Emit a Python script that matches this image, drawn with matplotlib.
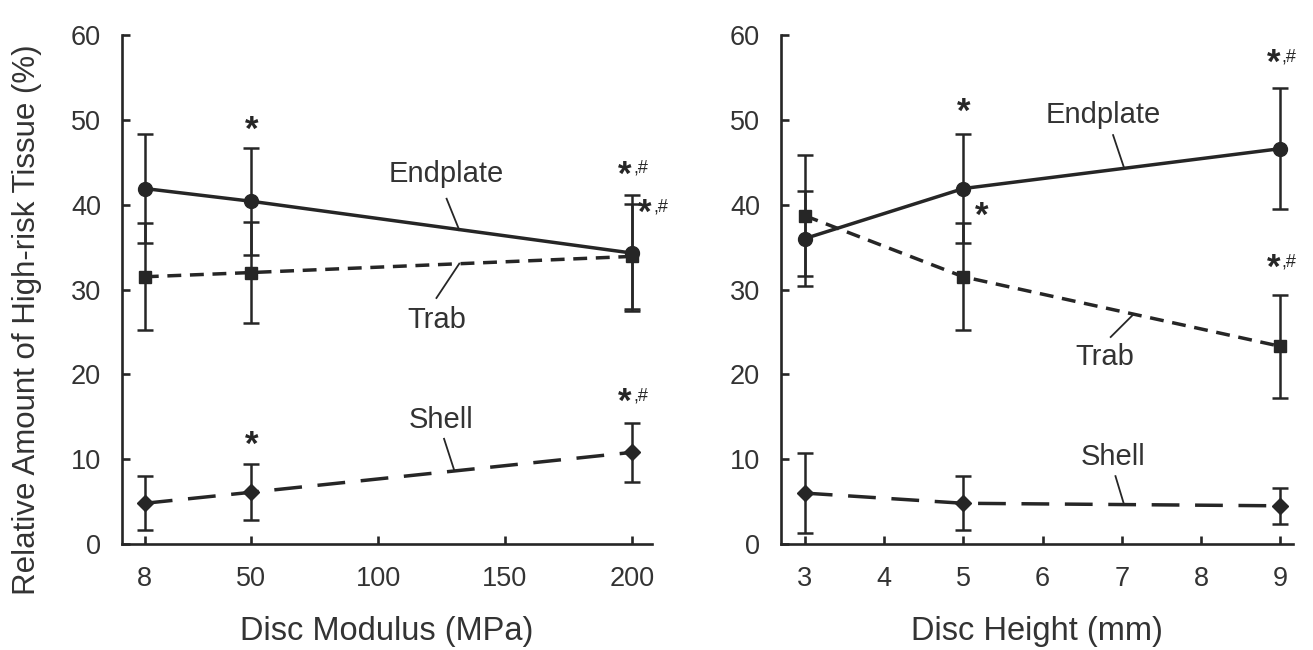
import numpy as np
import matplotlib
matplotlib.use('Agg')
import matplotlib.pyplot as plt

plt.rcParams['font.family'] = ['Liberation Sans', 'DejaVu Sans']

ink = '#262626'
txt = '#333333'

# left panel: disc modulus (MPa)
modulus = [8, 50, 200]
mod_endplate = [41.9, 40.4, 34.3]
mod_endplate_sd = [6.4, 6.3, 6.8]
mod_trab = [31.5, 32.0, 33.9]
mod_trab_sd = [6.3, 6.0, 6.2]
mod_shell = [4.8, 6.1, 10.8]
mod_shell_sd = [3.2, 3.3, 3.5]

# right panel: disc height (mm)
height = [3, 5, 9]
hgt_endplate = [36.0, 41.9, 46.6]
hgt_endplate_sd = [5.6, 6.4, 7.1]
hgt_trab = [38.7, 31.5, 23.3]
hgt_trab_sd = [7.1, 6.3, 6.1]
hgt_shell = [6.0, 4.8, 4.5]
hgt_shell_sd = [4.7, 3.2, 2.1]

# significance marks: (x, y, label)
mod_marks = [(50, 49.4, ''), (200, 44.1, ',#'), (208, 39.6, ',#'),
             (50, 12.3, ''), (200, 17.3, ',#')]
hgt_marks = [(5, 51.5, ''), (5.23, 39.3, ''), (9, 57.3, ',#'), (9, 33.1, ',#')]

# series labels: (text, text x, text y, leader start, leader end)
mod_labels = [('Endplate', 127, 43.6, (127, 40.7), (132, 37.0)),
              ('Trab', 123, 26.4, (123, 29.0), (132, 33.05)),
              ('Shell', 125, 14.6, (126, 12.4), (130, 8.7))]
hgt_labels = [('Endplate', 6.76, 50.6, (6.89, 48.2), (7.03, 44.3)),
              ('Trab', 6.79, 22.0, (6.86, 24.4), (7.15, 27.1)),
              ('Shell', 6.89, 10.3, (6.92, 8.0), (7.03, 4.6))]


def draw_series(ax, x, y, sd, marker, ms, dashes):
    ax.errorbar(x, y, yerr=sd, fmt='none', ecolor=ink, elinewidth=1.8,
                capsize=6, capthick=1.8, zorder=2)
    line, = ax.plot(x, y, color=ink, lw=2.5, marker=marker, ms=ms,
                    mfc=ink, mec=ink, zorder=3)
    if dashes:
        line.set_dashes(dashes)


def style_axes(ax, xlim, xticks):
    ax.set_xlim(*xlim)
    ax.set_ylim(0, 60)
    ax.set_xticks(xticks)
    ax.set_yticks(range(0, 61, 10))
    for s in ['top', 'right']:
        ax.spines[s].set_visible(False)
    for s in ['left', 'bottom']:
        ax.spines[s].set_linewidth(1.9)
        ax.spines[s].set_color(ink)
    ax.tick_params(direction='in', length=6, width=1.9, color=ink,
                   labelsize=19.5, labelcolor=txt)
    ax.tick_params(axis='x', pad=16)
    ax.tick_params(axis='y', pad=15)


def add_marks(ax, marks):
    for x, y, lab in marks:
        ax.annotate('*', (x, y), xytext=(-5 if lab else 0, -4),
                    textcoords='offset points', ha='center', va='center',
                    fontsize=25, fontweight='bold', color=ink,
                    annotation_clip=False)
        if lab:
            ax.annotate(lab, (x, y), xytext=(1, 1), textcoords='offset points',
                        ha='left', va='center', fontsize=13, color=ink,
                        annotation_clip=False)


def add_labels(ax, labels):
    for t, tx, ty, p0, p1 in labels:
        ax.text(tx, ty, t, ha='center', va='center', fontsize=21, color=txt)
        ax.plot([p0[0], p1[0]], [p0[1], p1[1]], color=ink, lw=1.3, zorder=4)


fig = plt.figure(figsize=(13.13, 6.5), dpi=100)
ax1 = fig.add_axes([122 / 1313, 106 / 650, 530 / 1313, 509 / 650])
ax2 = fig.add_axes([781 / 1313, 106 / 650, 512 / 1313, 509 / 650])

draw_series(ax1, modulus, mod_endplate, mod_endplate_sd, 'o', 10, None)
draw_series(ax1, modulus, mod_trab, mod_trab_sd, 's', 8.5, (4, 2.5))
draw_series(ax1, modulus, mod_shell, mod_shell_sd, 'D', 8.5, (8, 4.5))
style_axes(ax1, (-1, 208), [8, 50, 100, 150, 200])
add_marks(ax1, mod_marks)
add_labels(ax1, mod_labels)
ax1.set_xlabel('Disc Modulus (MPa)', fontsize=23.5, color=txt)
ax1.xaxis.set_label_coords(0.5, -0.142)

draw_series(ax2, height, hgt_endplate, hgt_endplate_sd, 'o', 10, None)
draw_series(ax2, height, hgt_trab, hgt_trab_sd, 's', 8.5, (4, 2.5))
draw_series(ax2, height, hgt_shell, hgt_shell_sd, 'D', 8.5, (8, 4.5))
style_axes(ax2, (2.7, 9.16), [3, 4, 5, 6, 7, 8, 9])
add_marks(ax2, hgt_marks)
add_labels(ax2, hgt_labels)
ax2.set_xlabel('Disc Height (mm)', fontsize=23.5, color=txt)
ax2.xaxis.set_label_coords(0.5, -0.142)

fig.text(27 / 1313, 1 - 320 / 650, 'Relative Amount of High-risk Tissue (%)',
         rotation=90, ha='center', va='center', fontsize=22.5, color=txt)

fig.savefig('out.png', dpi=100)
